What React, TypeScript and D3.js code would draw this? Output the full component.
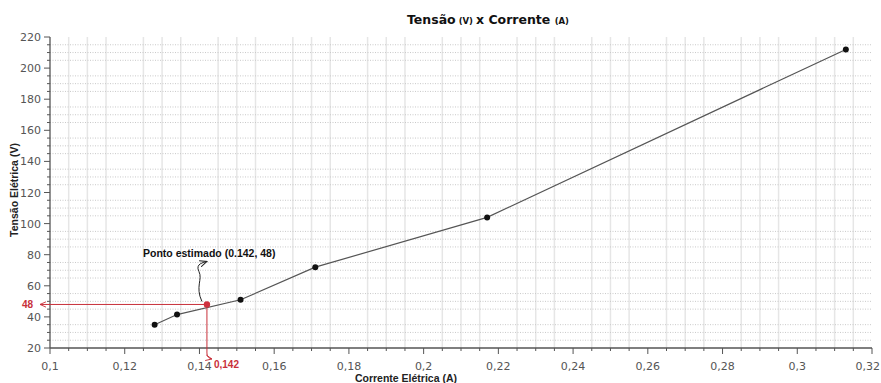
import React from 'react';
import * as d3 from 'd3';

// measured points (corrente A, tensão V)
const correnteA = [0.128, 0.134, 0.151, 0.171, 0.217, 0.313];
const tensaoV = [35, 41.5, 51, 72, 104, 212];
const estimado = { x: 0.142, y: 48 };

const xTicks = [0.1, 0.12, 0.14, 0.16, 0.18, 0.2, 0.22, 0.24, 0.26, 0.28, 0.3, 0.32];
const yTicks = [20, 40, 60, 80, 100, 120, 140, 160, 180, 200, 220];

const W = 881;
const H = 383;

export default function App() {
  const x = d3.scaleLinear().domain([0.1, 0.32]).range([50, 872]);
  const y = d3.scaleLinear().domain([20, 220]).range([348, 37]);

  const xMinor = d3.range(0, 44).map(i => 0.1 + i * 0.005).filter(v => v < 0.3201 && Math.round(v * 1000) % 20 !== 0);
  const yMinor = d3.range(20, 221, 5).filter(v => v % 20 !== 0);

  const pts = correnteA.map((c, i) => [c, tensaoV[i]] as [number, number]);
  const line = d3.line<[number, number]>().x(d => x(d[0])).y(d => y(d[1]));

  const fmt = (v: number) => String(+v.toFixed(2)).replace('.', ',');
  const ex = x(estimado.x);
  const ey = y(estimado.y);
  const red = '#c8303a';

  return (
    <svg width={W} height={H} style={{ position: 'absolute', left: 0, top: 0, background: '#fff' }}>
      <defs>
        <marker id="arrR" viewBox="0 0 10 10" refX="9" refY="5" markerWidth="7" markerHeight="7" orient="auto-start-reverse">
          <path d="M0,1 L9,5 L0,9" fill="none" stroke={red} strokeWidth="1.3" />
        </marker>
        <marker id="arrK" viewBox="0 0 10 10" refX="9" refY="5" markerWidth="8" markerHeight="8" orient="auto">
          <path d="M0,1 L9,5 L0,9" fill="none" stroke="#222" strokeWidth="1.3" />
        </marker>
      </defs>

      {/* grid */}
      {xMinor.map(v => (
        <line key={'gx' + v} x1={x(v)} x2={x(v)} y1={y(220)} y2={y(20)} stroke="#e6e6e6" strokeWidth={1.5} />
      ))}
      {yMinor.map(v => (
        <line key={'gy' + v} x1={x(0.1)} x2={x(0.32)} y1={y(v)} y2={y(v)} stroke="#c9c9c9" strokeWidth={1} strokeDasharray="1,1.5" />
      ))}

      {/* axes */}
      <line x1={x(0.1)} x2={x(0.1)} y1={y(220)} y2={y(20)} stroke="#555" strokeWidth={1.3} />
      <line x1={x(0.1)} x2={x(0.32)} y1={y(20)} y2={y(20)} stroke="#555" strokeWidth={1.3} />
      {yTicks.map(v => (
        <g key={'yt' + v}>
          <line x1={x(0.1) - 6} x2={x(0.1)} y1={y(v)} y2={y(v)} stroke="#555" />
          <text x={x(0.1) - 9} y={y(v) + 4} textAnchor="end" fontFamily="DejaVu Sans" fontSize={11} fill="#555">{v}</text>
        </g>
      ))}
      {yMinor.map(v => (
        <line key={'ym' + v} x1={x(0.1) - 3} x2={x(0.1)} y1={y(v)} y2={y(v)} stroke="#555" />
      ))}
      {xTicks.map((v, i) => (
        <g key={'xt' + v}>
          <line x1={x(v)} x2={x(v)} y1={y(20)} y2={y(20) + 6} stroke="#555" />
          <text x={i === xTicks.length - 1 ? W - 1 : x(v)} y={y(20) + 22} textAnchor={i === xTicks.length - 1 ? 'end' : 'middle'} fontFamily="DejaVu Sans" fontSize={11} fill="#555">{fmt(v)}</text>
        </g>
      ))}
      {xMinor.map(v => (
        <line key={'xm' + v} x1={x(v)} x2={x(v)} y1={y(20)} y2={y(20) + 3} stroke="#555" />
      ))}

      {/* estimated point guides */}
      <line x1={ex} x2={x(0.1) - 10} y1={ey} y2={ey} stroke={red} strokeWidth={1} markerEnd="url(#arrR)" />
      <path d={`M${ex},${ey} L${ex},${y(20) + 5} Q${ex},${y(20) + 10} ${ex + 5},${y(20) + 11}`} fill="none" stroke={red} strokeWidth={1} markerEnd="url(#arrR)" />
      <text x={x(0.1) - 28} y={ey + 4} fontFamily="Liberation Sans" fontWeight="bold" fontSize={10} fill={red}>48</text>
      <text x={ex + 7} y={y(20) + 20} fontFamily="Liberation Sans" fontWeight="bold" fontSize={10} fill={red}>0,142</text>

      {/* data line */}
      <path d={line(pts) || ''} fill="none" stroke="#555" strokeWidth={1.2} />
      {pts.map((p, i) => (
        <circle key={'p' + i} cx={x(p[0])} cy={y(p[1])} r={3} fill="#111" />
      ))}
      <circle cx={ex} cy={ey} r={3.2} fill="#d0303e" />

      {/* annotation */}
      <path d={`M${ex - 5},${ey - 3} C${ex - 12},${ey - 18} ${ex - 4},${ey - 25} ${ex - 8},${ey - 33} S${ex - 3},${ey - 42} ${ex},${ey - 43}`} fill="none" stroke="#222" strokeWidth={1} markerEnd="url(#arrK)" />
      <text x={143} y={257} fontFamily="Liberation Sans" fontWeight="bold" fontSize={10.5} fill="#111">Ponto estimado (0.142, 48)</text>

      {/* titles */}
      <text x={488} y={24} textAnchor="middle" fontFamily="DejaVu Sans" fontWeight="bold" fill="#111">
        <tspan fontSize={12.5}>Tensão</tspan>
        <tspan fontSize={8.5}> (V) </tspan>
        <tspan fontSize={12.5}> x Corrente </tspan>
        <tspan fontSize={8.5}>(A)</tspan>
      </text>
      <text transform={`translate(18,${190}) rotate(-90)`} textAnchor="middle" fontFamily="Liberation Sans" fontWeight="bold" fontSize={10.5} fill="#222">Tensão Elétrica (V)</text>
      <text x={406} y={382} textAnchor="middle" fontFamily="Liberation Sans" fontWeight="bold" fontSize={10.5} fill="#222">Corrente Elétrica (A)</text>
    </svg>
  );
}
